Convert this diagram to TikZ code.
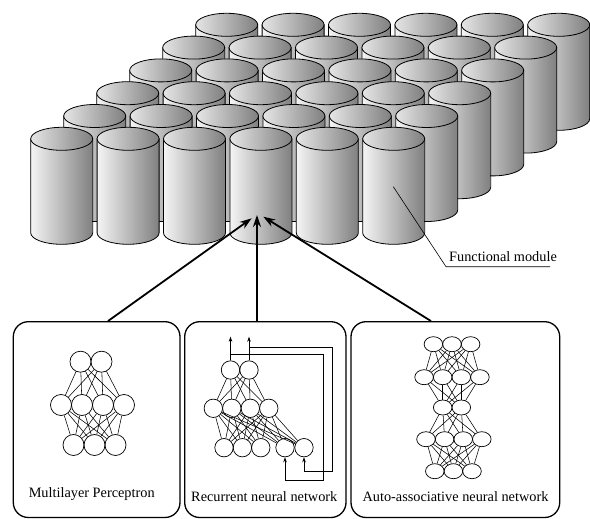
\documentclass[tikz,border=0pt]{standalone}
\usepackage{fontspec}
\setmainfont{Liberation Serif}
\usetikzlibrary{arrows.meta}
\usetikzlibrary{shapes.geometric}

\begin{document}
\begin{tikzpicture}[x=1pt,y=1pt,
        font=\fontsize{14.3}{17}\selectfont,
        cylBody/.style = {draw=black,line width=0.8pt,left color=black!4,right color=black!50},
        cylTop/.style = {draw=black,line width=0.8pt,left color=black!10,right color=black!50},
        boxNode/.style = {draw=black,line width=1.3pt,rounded corners=15pt,inner sep=0pt,minimum height=195.8pt},
        mlpNeuron/.style = {shape=circle,draw=black,line width=0.7pt,inner sep=0pt,minimum size=21pt},
        rnnNeuron/.style = {shape=circle,draw=black,line width=0.7pt,inner sep=0pt,minimum size=18.4pt},
        aannNeuron/.style = {shape=ellipse,draw=black,line width=0.7pt,inner sep=0pt,minimum width=18.6pt,minimum height=15pt},
        synapse/.style = {line width=0.55pt},
        feedArrow/.style = {line width=0.7pt,-{Stealth[length=5pt,width=3.5pt]}},
        bigArrow/.style = {line width=1.8pt,-{Stealth[length=12pt,width=8pt]}},
        labelText/.style = {inner sep=0pt,anchor=base}
        ]
        \useasboundingbox (0,0) rectangle (590,-519);

        % functional modules, back row first
        \foreach \r in {5,4,...,0} {
            \foreach \c in {0,...,5} {
                \pgfmathsetmacro{\cx}{61.7+66.4*\c+33*\r}
                \pgfmathsetmacro{\cy}{-138.8+22.8*\r}
                \path[cylBody] (\cx-31,\cy) -- ++(0,-94) arc[start angle=180,end angle=360,x radius=31,y radius=11.5] -- ++(0,94) -- cycle;
                \path[cylTop] (\cx,\cy) ellipse[x radius=31,y radius=11.5];
            }
        }

        % leader for the module label
        \coordinate (modPin) at (393.3,-186.7);
        \coordinate (modBend) at (446,-266.7);
        \coordinate (modEnd) at (550,-266.7);
        \draw[line width=0.6pt] (modPin) -- (modBend) -- (modEnd);
        \node[inner sep=0pt,anchor=base west] (modLabel) at (449,-261.5) {Functional module};

        % the three boxes
        \node[boxNode,minimum width=166.7pt] (mlpBox) at (96.65,-419.6) {};
        \node[boxNode,minimum width=161.3pt] (rnnBox) at (265.35,-419.6) {};
        \node[boxNode,minimum width=208.7pt] (aannBox) at (455.35,-419.6) {};

        \coordinate (tipL) at (251.7,-218.3);
        \coordinate (tipM) at (257,-215);
        \coordinate (tipR) at (263.3,-216.7);
        \draw[bigArrow] (108,0 |- mlpBox.north) -- (tipL);
        \draw[bigArrow] (257,0 |- rnnBox.north) -- (tipM);
        \draw[bigArrow] (431,0 |- aannBox.north) -- (tipR);

        % multilayer perceptron
        \foreach \i/\x in {1/80.5,2/101.5}
            \node[mlpNeuron] (mlpA\i) at (\x,-361.7) {};
        \foreach \i/\x in {1/61,2/82,3/103,4/124}
            \node[mlpNeuron] (mlpB\i) at (\x,-405) {};
        \foreach \i/\x in {1/73.5,2/94.5,3/115.5}
            \node[mlpNeuron] (mlpC\i) at (\x,-445) {};
        \foreach \i in {1,2} \foreach \j in {1,...,4} \draw[synapse] (mlpA\i) -- (mlpB\j);
        \foreach \i in {1,...,4} \foreach \j in {1,2,3} \draw[synapse] (mlpB\i) -- (mlpC\j);

        % recurrent network
        \foreach \i/\x in {1/230.5,2/249}
            \node[rnnNeuron] (rnnA\i) at (\x,-370) {};
        \foreach \i/\x in {1/213.3,2/231.8,3/250.3,4/268.8}
            \node[rnnNeuron] (rnnB\i) at (\x,-408.3) {};
        \foreach \i/\x in {1/224,2/242.4,3/260.8,4/285,5/304}
            \node[rnnNeuron] (rnnC\i) at (\x,-447.7) {};
        \foreach \i in {1,2} \foreach \j in {1,...,4} \draw[synapse] (rnnA\i) -- (rnnB\j);
        \foreach \i in {1,...,4} \foreach \j in {1,...,5} \draw[synapse] (rnnB\i) -- (rnnC\j);
        \foreach \i in {1,2} {
            \coordinate (rnnOut\i) at (rnnA\i |- 0,-336.7);
            \draw[feedArrow] (rnnA\i) -- (rnnOut\i);
        }
        \draw[feedArrow] (rnnA1 |- 0,-354) -- (323,-354) -- (323,-480) -- (rnnC4 |- 0,-480) -- (rnnC4);
        \draw[feedArrow] (rnnA2 |- 0,-347.7) -- (332.7,-347.7) -- (332.7,-471.7) -- (rnnC5 |- 0,-471.7) -- (rnnC5);

        % auto-associative network
        \foreach \i/\x in {1/433.4,2/452,3/470.6}
            \node[aannNeuron] (aannA\i) at (\x,-344.2) {};
        \foreach \i/\x in {1/424.1,2/442.7,3/461.3,4/479.9}
            \node[aannNeuron] (aannB\i) at (\x,-377.2) {};
        \foreach \i/\x in {1/442.7,2/461.3}
            \node[aannNeuron] (aannC\i) at (\x,-407.5) {};
        \foreach \i/\x in {1/426,2/444.6,3/463.2,4/481.8}
            \node[aannNeuron] (aannD\i) at (\x,-439.2) {};
        \foreach \i/\x in {1/434.8,2/453.4,3/472}
            \node[aannNeuron] (aannE\i) at (\x,-471.2) {};
        \foreach \i in {1,2,3} \foreach \j in {1,...,4} \draw[synapse] (aannA\i) -- (aannB\j);
        \foreach \i in {1,...,4} \foreach \j in {1,2} \draw[synapse] (aannB\i) -- (aannC\j);
        \foreach \i in {1,2} \foreach \j in {1,...,4} \draw[synapse] (aannC\i) -- (aannD\j);
        \foreach \i in {1,...,4} \foreach \j in {1,2,3} \draw[synapse] (aannD\i) -- (aannE\j);

        % box captions
        \node[labelText] (mlpLabel) at (91.7,-497.5) {Multilayer Perceptron};
        \node[labelText] (rnnLabel) at (264.3,-501.5) {Recurrent neural network};
        \node[labelText] (aannLabel) at (455.5,-501.5) {Auto-associative neural network};
    \end{tikzpicture}
\end{document}
